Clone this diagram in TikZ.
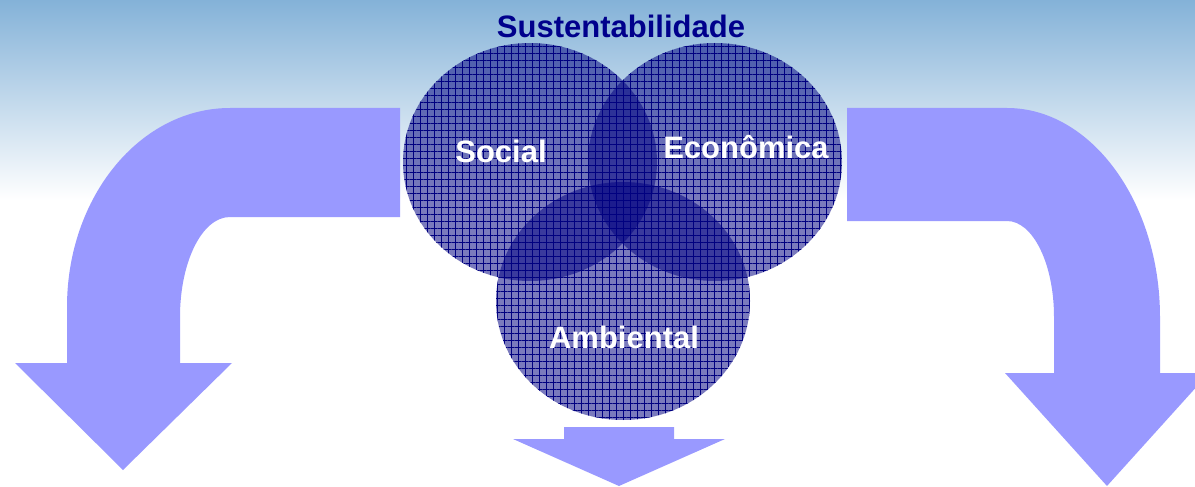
\documentclass[tikz,border=0pt]{standalone}
\usepackage{fontspec}
\setmainfont{Liberation Sans}
\usetikzlibrary{shapes.geometric,patterns.meta}
\definecolor{sky}{RGB}{132,178,216}
\definecolor{skymid}{RGB}{214,229,242}
\definecolor{arrowblue}{RGB}{153,153,255}
\definecolor{vennnavy}{RGB}{0,0,128}
\definecolor{titlenavy}{RGB}{0,0,140}

\begin{document}
\begin{tikzpicture}[x=1pt, y=-1pt]
        \tikzset{venn/.style={ellipse, minimum width=254pt, minimum height=238pt, inner sep=0pt,
                fill=vennnavy, fill opacity=0.52,
                postaction={pattern={Hatch[distance=7pt, line width=0.6pt]}, pattern color=vennnavy, fill opacity=0.7}},
            vennlabel/.style={text=white, font=\bfseries\fontsize{31}{37}\selectfont, inner sep=0pt},
            titletext/.style={text=titlenavy, font=\bfseries\fontsize{31}{37}\selectfont, inner sep=0pt},
            bigarrow/.style={fill=arrowblue}}
        \useasboundingbox (0,0) rectangle (1195,487);
        \clip (0,0) rectangle (1195,487);
        \shade[top color=sky, middle color=skymid, bottom color=white] (0,0) rectangle (1195,200);

        \fill[bigarrow] (400,108) -- (230,108) .. controls (140,108) and (67,197) .. (67,307)
            -- (67,363) -- (15,363) -- (123,470) -- (232,363) -- (180,363) -- (180,317)
            .. controls (180,262) and (202,217) .. (230,217) -- (400,217) -- cycle;
        \fill[bigarrow] (847,108) -- (1007,108) .. controls (1091,108) and (1160,202) .. (1160,317)
            -- (1160,373) -- (1209,373) -- (1107,486) -- (1005,373) -- (1054,373) -- (1054,317)
            .. controls (1054,264) and (1033,221) .. (1007,221) -- (847,221) -- cycle;
        \fill[bigarrow] (564,427) -- (674,427) -- (674,439) -- (725,439) -- (619,486)
            -- (513,439) -- (564,439) -- cycle;

        \node[venn] (social) at (530,162) {};
        \node[venn] (economica) at (715,162) {};
        \node[venn] (ambiental) at (623,301) {};

        \node[titletext, anchor=base] (titulo) at (621,38) {Sustentabilidade};
        \node[vennlabel, anchor=base] (socialtxt) at (501,162) {Social};
        \node[vennlabel, anchor=base] (economicatxt) at (746,158) {Econômica};
        \node[vennlabel, anchor=base] (ambientaltxt) at (624,348) {Ambiental};
    \end{tikzpicture}
\end{document}
